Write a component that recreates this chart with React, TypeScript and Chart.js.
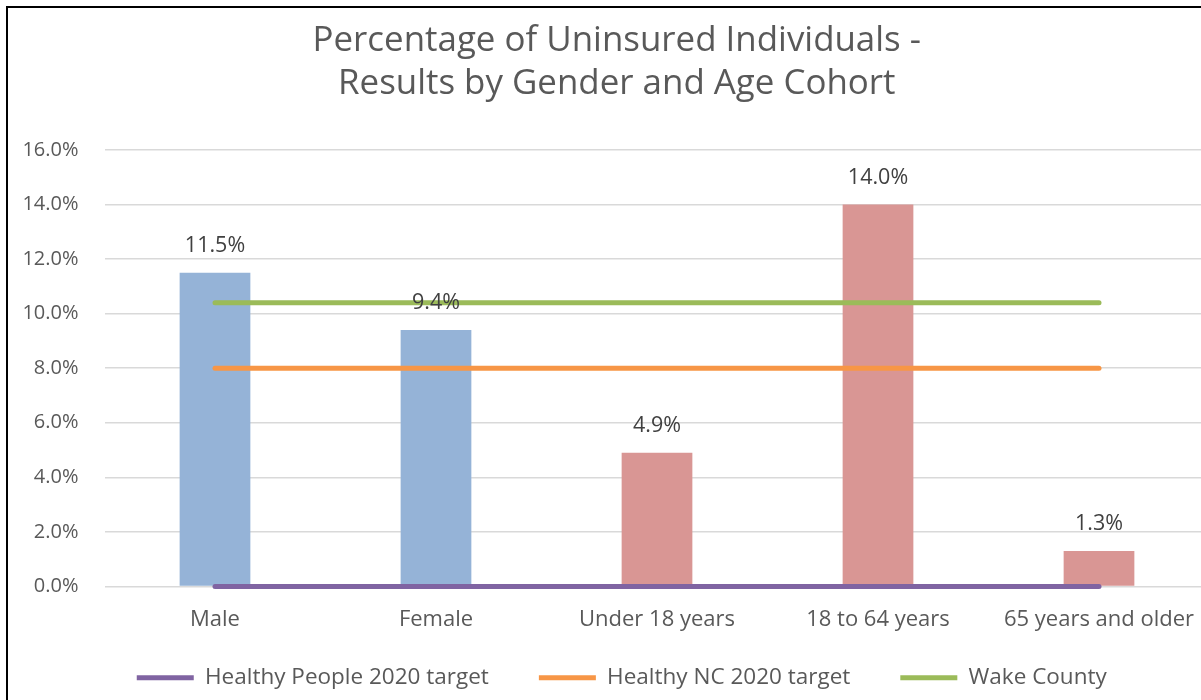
import React, { useEffect, useRef } from "react";
import { Chart, registerables } from "chart.js";

Chart.register(...registerables);

const titleLines = ["Percentage of Uninsured Individuals -", "Results by Gender and Age Cohort"];
const categories = ["Male", "Female", "Under 18 years", "18 to 64 years", "65 years and older"];
const uninsuredPct = [11.5, 9.4, 4.9, 14.0, 1.3];
const barColors = ["#95B3D7", "#95B3D7", "#D99694", "#D99694", "#D99694"];
const healthyPeople2020 = [0, 0, 0, 0, 0];
const healthyNC2020 = [8, 8, 8, 8, 8];
const wakeCounty = [10.4, 10.4, 10.4, 10.4, 10.4];
const lineLabels = ["Healthy People 2020 target", "Healthy NC 2020 target", "Wake County"];
const lineColors = ["#8064A2", "#F79646", "#9BBB59"];
const yMin = 0;
const yMax = 16;
const yStep = 2;

const FONT = "'Open Sans', sans-serif";

const barLabelsPlugin = {
  id: "barLabels",
  afterDatasetsDraw(chart: any) {
    const idx = chart.data.datasets.findIndex((d: any) => d.type === "bar");
    const meta = chart.getDatasetMeta(idx);
    const ctx = chart.ctx;
    ctx.save();
    ctx.font = `21.5px ${FONT}`;
    ctx.fillStyle = "#404040";
    ctx.textAlign = "center";
    ctx.textBaseline = "middle";
    meta.data.forEach((bar: any, i: number) => {
      ctx.fillText(uninsuredPct[i].toFixed(1) + "%", bar.x, bar.y - 27);
    });
    ctx.restore();
  },
};

// nudge the centred title and legend, as in the reference
const shiftBoxesPlugin = {
  id: "shiftBoxes",
  afterLayout(chart: any) {
    if (chart.legend) {
      chart.legend.left += 13;
      chart.legend.right += 13;
      chart.legend.top -= 38;
      chart.legend.bottom -= 38;
    }
    if (chart.titleBlock) {
      chart.titleBlock.left += 8;
      chart.titleBlock.right += 8;
    }
  },
};

export default function App() {
  const ref = useRef<HTMLCanvasElement>(null);

  useEffect(() => {
    if (!ref.current) return;
    const lineSeries = [healthyPeople2020, healthyNC2020, wakeCounty];
    const chart = new Chart(ref.current, {
      type: "bar",
      data: {
        labels: categories,
        datasets: [
          ...lineSeries.map((s, i) => ({
            type: "line" as const,
            label: lineLabels[i],
            data: s,
            borderColor: lineColors[i],
            backgroundColor: lineColors[i],
            borderWidth: 5,
            borderCapStyle: "round" as const,
            pointRadius: 0,
            pointStyle: "line" as const,
            tension: 0,
            clip: false,
            order: i + 1,
          })),
          {
            type: "bar" as const,
            label: "Uninsured",
            data: uninsuredPct,
            backgroundColor: barColors,
            borderWidth: 0,
            categoryPercentage: 1,
            barPercentage: 0.32,
            order: 10,
          },
        ],
      },
      options: {
        responsive: false,
        animation: false,
        layout: { padding: { left: 0, right: 18.5, top: 0, bottom: 0.9 } },
        plugins: {
          title: {
            display: true,
            text: titleLines,
            color: "#595959",
            font: { family: FONT, size: 34.9, weight: "normal", lineHeight: 1.22 },
            padding: { top: 12, bottom: 44.8 },
          },
          legend: {
            position: "bottom",
            labels: {
              color: "#595959",
              font: { family: FONT, size: 22.5 },
              usePointStyle: true,
              pointStyleWidth: 57,
              padding: 50,
              filter: (item: any) => item.datasetIndex < 3,
            },
          },
          tooltip: { enabled: false },
        },
        scales: {
          x: {
            grid: { display: false, drawTicks: false },
            border: { display: false },
            ticks: { color: "#595959", font: { family: FONT, size: 22 }, padding: 20 },
            afterFit: (scale: any) => {
              scale.height = 68.2;
            },
          },
          y: {
            min: yMin,
            max: yMax,
            ticks: {
              stepSize: yStep,
              color: "#595959",
              font: { family: FONT, size: 20 },
              padding: 26,
              callback: (v: any) => Number(v).toFixed(1) + "%",
            },
            grid: { color: "#D9D9D9", lineWidth: 1.5, drawTicks: false },
            border: { display: false },
            afterFit: (scale: any) => {
              scale.width = 96.5;
            },
          },
        },
      },
      plugins: [barLabelsPlugin, shiftBoxesPlugin],
    } as any);
    return () => chart.destroy();
  }, []);

  return (
    <div
      style={{
        position: "fixed",
        left: 0,
        top: 0,
        width: 1201,
        height: 700,
        overflow: "hidden",
        background: "#fff",
      }}
    >
      <div
        style={{
          position: "absolute",
          left: 6,
          top: 6,
          width: 1240,
          height: 750,
          borderLeft: "2px solid #000",
          borderTop: "2px solid #000",
          background: "#fff",
        }}
      >
        <canvas
          ref={ref}
          width={1220}
          height={730}
          style={{ display: "block", width: 1220, height: 730 }}
        />
      </div>
    </div>
  );
}
